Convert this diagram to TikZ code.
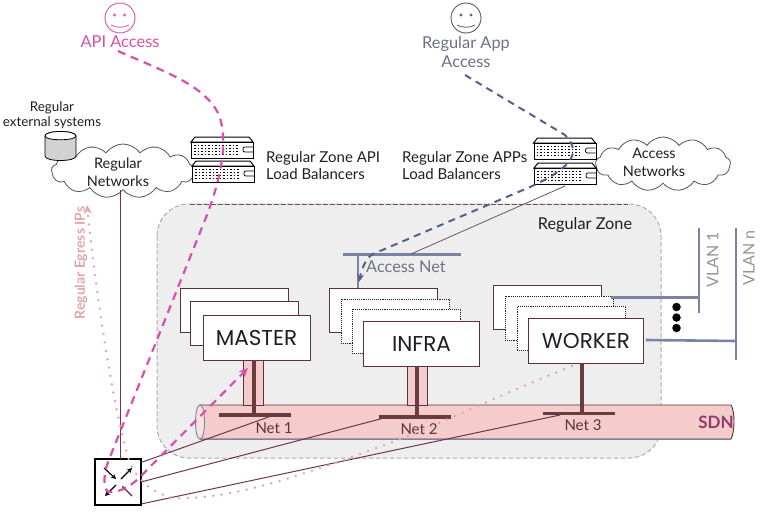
\documentclass[tikz,border=0pt]{standalone}
\usepackage{fontspec}
\setmainfont{Lato}
\newfontfamily\boxfont{Poppins}
\usetikzlibrary{arrows.meta,shapes.symbols}
\definecolor{maroon}{HTML}{5E3038}
\definecolor{thickm}{HTML}{6C3B40}
\definecolor{pinkd}{HTML}{D84FAE}
\definecolor{slate}{HTML}{7B83A3}
\definecolor{slated}{HTML}{56608A}
\definecolor{sdnfill}{HTML}{F4CCCC}
\definecolor{zonefill}{HTML}{EEEEEE}
\definecolor{egress}{HTML}{E0A6A8}
\definecolor{inkd}{HTML}{1E1E26}
\tikzset{
 lab/.style={inner sep=0pt,align=center,font=\fontsize{14.5}{18}\selectfont,text=inkd},
 smalllab/.style={inner sep=0pt,align=center,font=\fontsize{13.4}{15.5}\selectfont,text=inkd},
 leftlab/.style={inner sep=0pt,align=left,anchor=west,font=\fontsize{15}{17.5}\selectfont,text=inkd},
 backbox/.style={draw=maroon,fill=white,line width=.9pt,minimum width=108,minimum height=44,inner sep=0pt},
 dotbox/.style={draw=inkd,fill=white,densely dotted,line width=.9pt,minimum width=108,minimum height=44,inner sep=0pt},
 rolebox/.style={draw=maroon,fill=white,line width=.9pt,inner sep=0pt,font=\boxfont\fontsize{21.5}{23}\selectfont,text=inkd},
 netbar/.style={fill=thickm,draw=none,minimum width=72,minimum height=3.4,inner sep=0pt},
 netlab/.style={inner sep=0pt,font=\fontsize{15}{17}\selectfont,text=maroon},
 smiley/.style={circle,draw,line width=.9pt,minimum size=30,inner sep=0pt},
 cloudn/.style={cloud,cloud puffs=13,cloud puff arc=110,aspect=2.7,draw=maroon!70!slate,fill=white,line width=.8pt,inner sep=0pt},
 lbbody/.style={draw=black,fill=white,line width=1pt,minimum width=62,minimum height=16,inner sep=0pt},
 pinkdash/.style={draw=pinkd,line width=2.2pt,dash pattern=on 8pt off 6pt},
 bluedash/.style={draw=slated,line width=2pt,dash pattern=on 7pt off 5.5pt},
 eglink/.style={draw=egress,line width=2.7pt,line cap=round,dash pattern=on 0pt off 8.5pt},
 netlink/.style={draw=maroon!85!pinkd,line width=1pt},
 vlanline/.style={draw=slate,line width=2.6pt},
 vlanlab/.style={inner sep=0pt,rotate=90,font=\fontsize{16}{18}\selectfont,text=gray!85},
 rarrow/.style={draw=black,line width=1.1pt,-{Stealth[length=5pt,width=5pt]}}
}
% name, left x, top y
\newcommand{\lbunit}[3]{%
 \fill[white,draw=black,line width=1pt] (#2,#3+5) -- (#2+4,#3) -- (#2+58,#3) -- (#2+62,#3+5) -- cycle;
 \node[lbbody,anchor=north west] (#1) at (#2,#3+5) {};
 \foreach \yy in {8.5,11.5,14.5,17.5}{
  \draw[black,line width=1.2pt,dash pattern=on 1.5pt off 2pt] (#2+3,#3+\yy) -- (#2+48,#3+\yy);
 }
 \draw[black,line width=.7pt,rounded corners=2pt] (#2+62,#3+10) -- (#2+52,#3+10) -- (#2+52,#3+15) -- (#2+62,#3+15);
}
\begin{document}
\begin{tikzpicture}[x=1pt,y=-1pt]
\useasboundingbox (0,0) rectangle (760,514);

% zone
\draw[draw=gray!65,fill=zonefill,line width=1pt,dash pattern=on 4.5pt off 2.5pt,rounded corners=32pt] (157,204) rectangle (661,458);
\draw[draw=maroon!85,line width=.7pt,dash pattern=on 4.5pt off 2.5pt] (190,204) -- (628,204);
\node[inner sep=0pt,font=\fontsize{16.3}{18}\selectfont,text=inkd] (zonelab) at (585,224.5) {Regular Zone};

% SDN cylinder
\draw[draw=maroon,fill=sdnfill,line width=.9pt] (200,405) -- (731,405) .. controls (735,411) and (735,432) .. (731,439) -- (200,439) -- cycle;
\draw[draw=slate,line width=.7pt] (200,439) -- (731,439);
\draw[draw=slate,fill=sdnfill!60!white,line width=.9pt] (200,405) .. controls (194,405) and (194,439) .. (200,439) .. controls (206,439) and (206,405) .. (200,405) -- cycle;
\node[inner sep=0pt,font=\bfseries\fontsize{17}{19}\selectfont,text=maroon!60!pinkd] (sdnlab) at (716,422) {SDN};

% pillars
\draw[draw=maroon,fill=sdnfill,line width=.8pt] (243.5,359) rectangle (263.5,405);
\draw[draw=maroon,fill=sdnfill,line width=.8pt] (407,365) rectangle (427,405);

% net bars
\node[netbar] (net1) at (255,415) {};
\node[netbar] (net2) at (415,417) {};
\node[netbar] (net3) at (579,413.5) {};
\node[netlab] (net1lab) at (274,428) {Net 1};
\node[netlab] (net2lab) at (419,429) {Net 2};
\node[netlab] (net3lab) at (583,425.5) {Net 3};

% role boxes
\node[backbox,anchor=north west] (m1) at (179.5,288) {};
\node[backbox,anchor=north west] (m2) at (190,300.5) {};
\node[rolebox,minimum width=107,minimum height=44.5,anchor=north west] (master) at (202.5,315) {MASTER};
\node[backbox,anchor=north west] (i1) at (329,288) {};
\node[dotbox,anchor=north west] (i2) at (340.5,298.5) {};
\node[dotbox,anchor=north west] (i3) at (352,308.5) {};
\node[rolebox,minimum width=116,minimum height=45,anchor=north west] (infra) at (363,321) {INFRA};
\node[backbox,anchor=north west] (w1) at (492.5,285) {};
\node[dotbox,anchor=north west] (w2) at (504.5,295.5) {};
\node[dotbox,anchor=north west] (w3) at (517,306) {};
\node[rolebox,minimum width=115,minimum height=45,anchor=north west] (worker) at (528,318) {WORKER};

% stems
\draw[draw=thickm,line width=3.2pt] (master.south -| net1.north) ++(-1,0) coordinate (ms) -- (ms |- net1.center);
\draw[draw=thickm,line width=3.2pt] (417,366) coordinate (is) -- (is |- net2.center);
\draw[draw=thickm,line width=3.2pt] (582,363) coordinate (ws) -- (ws |- net3.center);

% VLAN
\coordinate (vlan1top) at (699,228);
\coordinate (vlan1bot) at (699,313);
\coordinate (vlannbot) at (736,360);
\coordinate (vlanntop) at (736,228);
\draw[vlanline] (vlan1top) -- (vlan1bot);
\draw[vlanline] (vlanntop) -- (vlannbot);
\coordinate (v1j) at (699,297.5);
\coordinate (vnj) at (736,341);
\draw[vlanline] (w2.north east |- v1j) ++(-2,0) coordinate (v1s) -- (v1j);
\draw[vlanline] (worker.east |- vnj) ++(2,-1) coordinate (vns) -- (vnj);
\node[vlanlab] (vlan1lab) at (712.5,260) {VLAN 1};
\node[vlanlab] (vlannlab) at (749,258) {VLAN n};
\node[circle,fill=black,minimum size=8.5,inner sep=0pt] (d1) at (676.5,307) {};
\node[circle,fill=black,minimum size=8.5,inner sep=0pt] (d2) at (676.5,317.5) {};
\node[circle,fill=black,minimum size=8.5,inner sep=0pt] (d3) at (676.5,328) {};

% access net
\node[fill=slate,minimum width=118,minimum height=3,inner sep=0pt] (accessbar) at (402,254) {};
\coordinate (accdrop) at (358,288);
\draw[vlanline] (accessbar.center -| accdrop) -- (accdrop);
\node[inner sep=0pt,font=\fontsize{16.3}{18}\selectfont,text=gray!60!slated] (acclab) at (406,267) {Access Net};

% clouds
\node[cloudn,minimum width=143,minimum height=54] (regnet) at (123,171) {};
\node[cloudn,minimum width=135,minimum height=54] (accnet) at (663,164) {};
\node[lab] (regnetlab) at (118,172) {Regular\\Networks};
\node[lab] (accnetlab) at (654,162.5) {Access\\Networks};

% database
\draw[draw=black,fill=gray!35,line width=.8pt] (45,136) -- (45,156) .. controls (45,162) and (76,162) .. (76,156) -- (76,136) .. controls (76,130) and (45,130) .. (45,136) -- cycle;
\draw[draw=black,fill=white,line width=.8pt] (45,136) .. controls (45,130) and (76,130) .. (76,136) .. controls (76,141) and (45,141) .. (45,136) -- cycle;
\node[smalllab] (extlab) at (52,115) {Regular\\external systems};

% load balancers
\lbunit{lbapi1}{191}{137}
\lbunit{lbapi2}{192}{161}
\lbunit{lbapp1}{533.5}{138}
\lbunit{lbapp2}{534}{163}
\node[leftlab] (apilab) at (266,165.5) {Regular Zone API\\Load Balancers};
\node[leftlab] (applab) at (402,165.5) {Regular Zone APPs\\Load Balancers};

% smileys
\node[smiley,draw=pinkd] (apiface) at (120,18) {};
\draw[pinkd,line width=.7pt] (114.5,15) circle (1.2) (124.5,15) circle (1.2);
\draw[pinkd,line width=.8pt] (111,25) .. controls (116,28) and (124,28) .. (129,25);
\node[smiley,draw=gray!70!black] (appface) at (466,18) {};
\draw[gray!70!black,line width=.7pt] (461,15) circle (1.2) (471,15) circle (1.2);
\draw[gray!70!black,line width=.8pt] (457,25) .. controls (462,28) and (470,28) .. (475,25);
\node[inner sep=0pt,font=\fontsize{16.4}{19}\selectfont,text=pinkd] (apilabel) at (120,42) {API Access};
\node[inner sep=0pt,align=center,font=\fontsize{16.4}{19.5}\selectfont,text=gray!55!slated] (applabel) at (466,52) {Regular App\\Access};

% router
\node[draw=black,fill=white,line width=1.7pt,minimum size=46,inner sep=0pt] (router) at (118,482) {};
\coordinate (ra1) at (104,468); \coordinate (ra2) at (116,479);
\coordinate (rb1) at (121,479); \coordinate (rb2) at (132,468);
\coordinate (rc1) at (116,485); \coordinate (rc2) at (105,496);
\coordinate (rd1) at (132,496); \coordinate (rd2) at (122,486);
\draw[rarrow] (ra1) -- (ra2);
\draw[rarrow] (rb1) -- (rb2);
\draw[rarrow] (rc1) -- (rc2);
\draw[draw=maroon,line width=1.1pt,-{Stealth[length=4pt,width=4pt]}] (rd1) -- (rd2);

% thin links
\coordinate (regdown) at (120.5,459);
\draw[netlink,line width=.8pt] (regnet.south -| regdown) -- (regdown);
\coordinate (r1) at (141,462.5); \coordinate (n1e) at (277,414);
\coordinate (r2) at (141,482); \coordinate (n2e) at (384,418);
\coordinate (r3) at (141,504); \coordinate (n3e) at (560,415);
\draw[netlink] (r1) -- (n1e);
\draw[netlink] (r2) -- (n2e);
\draw[netlink] (r3) -- (n3e);
\coordinate (lbo) at (565,186);
\coordinate (acc2) at (411,254);
\draw[draw=maroon!55!gray,line width=.8pt] (lbo) -- (acc2);

% egress dotted
\coordinate (egs) at (572,366);
\coordinate (ege) at (87,205);
\draw[eglink,-{Stealth[length=9pt,width=8pt,color=egress]}] (egs) .. controls (500,395) and (430,428) .. (398,440) .. controls (330,465) and (240,500) .. (177,498) .. controls (150,495) and (135,475) .. (130,463) .. controls (112,410) and (92,260) .. (ege);
\node[inner sep=0pt,rotate=90,font=\bfseries\fontsize{14}{16}\selectfont,text=egress] (eglab) at (81,263) {Regular Egress IPs};

% pink dashed
\coordinate (pinks) at (118,51);
\coordinate (pinke) at (248,368);
\draw[pinkdash,-{Stealth[length=9pt,width=8pt]}] (pinks) .. controls (165,72) and (205,85) .. (219,115) .. controls (228,140) and (222,175) .. (207,215) -- (108,462) .. controls (102,480) and (104,492) .. (110,492) .. controls (120,492) and (130,487) .. (140,477) -- (pinke);

% blue dashed
\coordinate (blues) at (465,75);
\coordinate (bluee) at (359,282);
\draw[bluedash,-{Stealth[length=8pt,width=7pt]}] (blues) -- (565,135) .. controls (575,145) and (576,155) .. (566,165) .. controls (555,175) and (545,180) .. (530,187) -- (373,254) .. controls (366,258) and (362,268) .. (bluee);
\end{tikzpicture}
\end{document}
